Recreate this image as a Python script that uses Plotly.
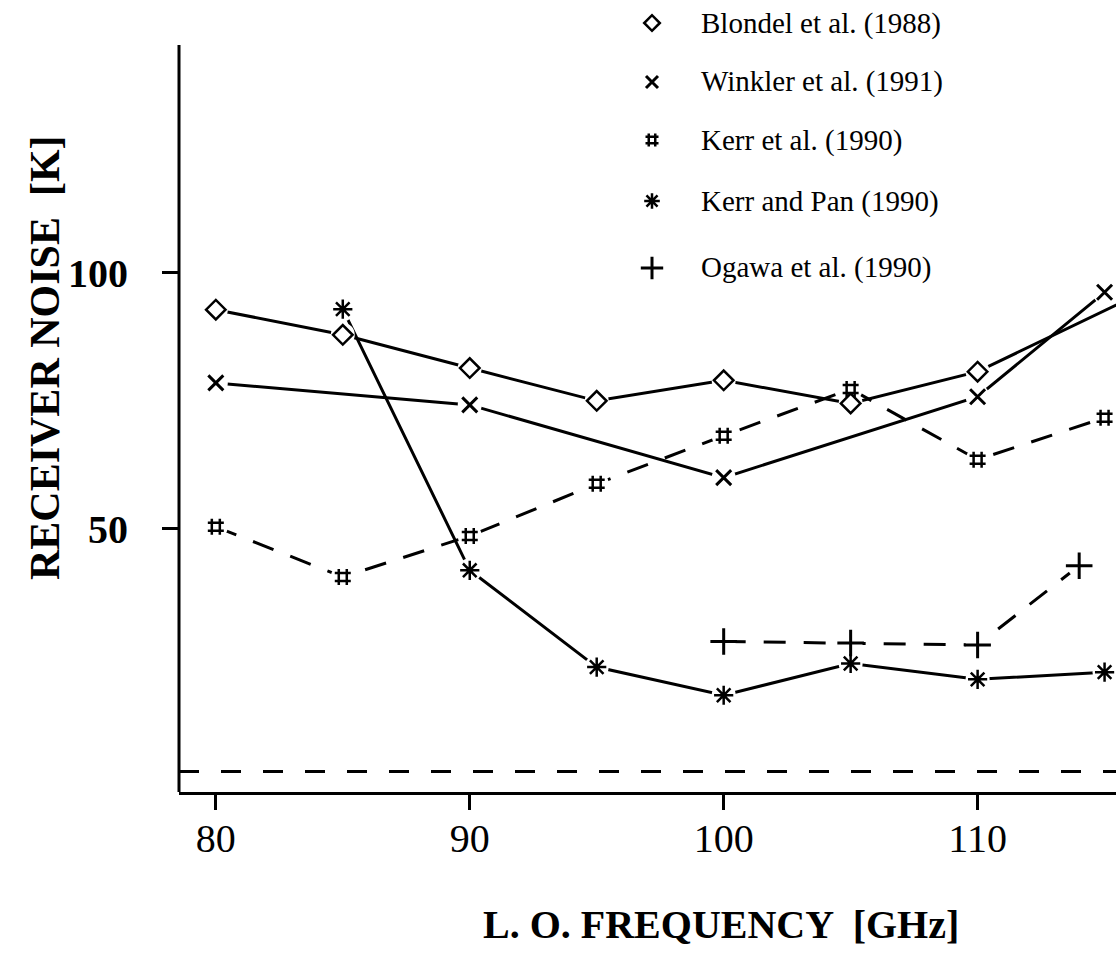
import plotly.graph_objects as go

# Receiver noise temperature vs. LO frequency for SIS mixers
blondel_f = [80, 85, 90, 95, 100, 105, 110, 116]
blondel_t = [92.8, 87.9, 81.4, 75.0, 79.0, 74.5, 80.7, 95.0]

winkler_f = [80, 90, 100, 110, 115]
winkler_t = [78.5, 74.2, 60.0, 75.8, 96.2]

kerr_f = [80, 85, 90, 95, 100, 105, 110, 115]
kerr_t = [50.4, 40.6, 48.6, 58.8, 68.2, 77.3, 63.5, 71.7]

kerrpan_f = [85, 90, 95, 100, 105, 110, 115]
kerrpan_t = [92.9, 41.9, 23.0, 17.5, 23.7, 20.6, 22.0]

ogawa_f = [100, 105, 110, 114]
ogawa_t = [28.0, 27.7, 27.3, 42.8]

quantum_limit = 2.6

legend_labels = ["Blondel et al. (1988)", "Winkler et al. (1991)", "Kerr et al. (1990)",
                 "Kerr and Pan (1990)", "Ogawa et al. (1990)"]

x_ticks = [80, 90, 100, 110]
y_ticks = [50, 100]

W, H = 1116, 953
ML, MR, MT, MB = 179, 0, 0, 161
PW, PH = W - ML - MR, H - MT - MB

Y_MIN, Y_AXIS_TOP = -1.4, 144.5
PX_PER_K = 5.12
Y_MAX = Y_MIN + PH / PX_PER_K

series = [
    (blondel_f, blondel_t, "diamond-open", 15, 2.5, "solid"),
    (winkler_f, winkler_t, "x-thin", 15, 3, "solid"),
    (kerr_f, kerr_t, "hash", 16, 2.5, "22px,18px"),
    (kerrpan_f, kerrpan_t, "asterisk", 16, 2.5, "solid"),
    (ogawa_f, ogawa_t, "cross-thin", 19, 3, "22px,18px"),
]

fig = go.Figure()

# connecting lines
for f, t, sym, sz, lw, dash in series:
    fig.add_trace(go.Scatter(x=f, y=t, mode="lines", showlegend=False, hoverinfo="skip",
                             line=dict(color="black", width=3, dash=dash)))

# small white halos so the lines stop short of each symbol
for f, t, sym, sz, lw, dash in series:
    fig.add_trace(go.Scatter(x=f, y=t, mode="markers", showlegend=False, hoverinfo="skip",
                             marker=dict(symbol="circle", size=24, color="white",
                                         line=dict(width=0))))

# data symbols
for f, t, sym, sz, lw, dash in series:
    fig.add_trace(go.Scatter(x=f, y=t, mode="markers", showlegend=False,
                             marker=dict(symbol=sym, size=sz, color="black",
                                         line=dict(color="black", width=lw))))

# legend: symbols on an overlay axis spanning the plot area, labels as annotations
leg_x_px, leg_text_px = 652, 699
leg_rows_px = [23, 82, 140, 201, 268]
for (f, t, sym, sz, lw, dash), label, ypx in zip(series, legend_labels, leg_rows_px):
    fig.add_trace(go.Scatter(x=[(leg_x_px - ML) / PW], y=[(H - MB - ypx) / PH],
                             xaxis="x2", yaxis="y2", mode="markers", showlegend=False,
                             cliponaxis=False, hoverinfo="skip",
                             marker=dict(symbol=sym, size=sz - 3, color="black",
                                         line=dict(color="black", width=lw))))
    fig.add_annotation(x=(leg_text_px - ML) / PW, y=(H - MB - ypx) / PH,
                       xref="paper", yref="paper", xanchor="left", yanchor="middle",
                       text=label, showarrow=False,
                       font=dict(family="Liberation Serif", size=29, color="black"))

# vertical axis line (stops below the top of the frame)
fig.add_shape(type="line", xref="paper", x0=0, x1=0, yref="y", y0=Y_MIN, y1=Y_AXIS_TOP,
              line=dict(color="black", width=3))

# quantum-limit reference line
fig.add_shape(type="line", xref="paper", x0=0, x1=1, yref="y", y0=quantum_limit, y1=quantum_limit,
              line=dict(color="black", width=2.8, dash="20px,22px"))

# axis titles
fig.add_annotation(x=99.9, xref="x", y=0, yref="paper", yanchor="top", yshift=-108,
                   text="<b>L. O. FREQUENCY  [GHz]</b>", showarrow=False,
                   font=dict(family="Liberation Serif", size=40, color="black"))
fig.add_annotation(x=0, xref="paper", xanchor="center", xshift=-134,
                   y=(H - MB - 358) / PH, yref="paper", yanchor="middle",
                   textangle=-90, text="<b>RECEIVER NOISE  [K]</b>", showarrow=False,
                   font=dict(family="Liberation Serif", size=42, color="black"))

fig.update_layout(
    width=W, height=H,
    margin=dict(l=ML, r=MR, t=MT, b=MB),
    paper_bgcolor="white", plot_bgcolor="white",
    showlegend=False,
    xaxis=dict(range=[78.55, 115.45], tickvals=x_ticks, ticktext=[str(v) for v in x_ticks],
               showgrid=False, zeroline=False, showline=True, linecolor="black", linewidth=3,
               ticks="outside", ticklen=15, tickwidth=2.5, tickcolor="black",
               ticklabelstandoff=-6,
               tickfont=dict(family="Liberation Serif", size=40, color="black")),
    yaxis=dict(range=[Y_MIN, Y_MAX], tickvals=y_ticks,
               ticktext=["<b>%d</b>" % v for v in y_ticks],
               showgrid=False, zeroline=False, showline=False,
               ticks="outside", ticklen=16, tickwidth=3, tickcolor="black",
               ticklabelstandoff=26,
               tickfont=dict(family="Liberation Serif", size=40, color="black")),
    xaxis2=dict(overlaying="x", range=[0, 1], visible=False),
    yaxis2=dict(overlaying="y", range=[0, 1], visible=False),
)

fig.write_html("out.html")
